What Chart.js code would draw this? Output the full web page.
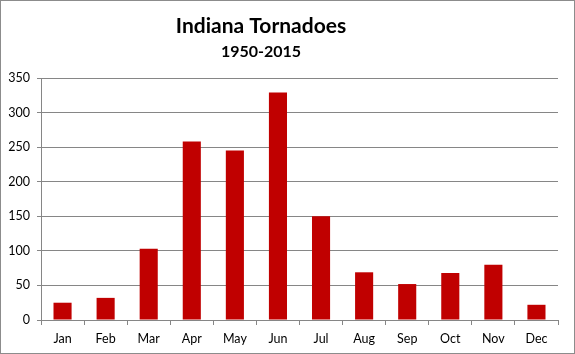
<!DOCTYPE html>
<html>
<head>
<meta charset="utf-8">
<script src="https://cdn.jsdelivr.net/npm/chart.js@4/dist/chart.umd.min.js"></script>
<style>
html,body{margin:0;padding:0;background:#fff;}
#wrap{position:relative;width:575px;height:354px;}
</style>
</head>
<body>
<div id="wrap"><canvas id="c" width="575" height="354"></canvas></div>
<script>
const categories = ["Jan","Feb","Mar","Apr","May","Jun","Jul","Aug","Sep","Oct","Nov","Dec"];
const tornadoes = [25, 32, 103, 258, 245, 329, 150, 69, 52, 68, 80, 22];
const yTicks = [0, 50, 100, 150, 200, 250, 300, 350];
const titleText = "Indiana Tornadoes";
const subtitleText = "1950-2015";

const FONT = "Lato, 'Open Sans', sans-serif";
const GRID = "#868686";

const decor = {
  id: "decor",
  beforeDraw(chart) {
    const ctx = chart.ctx;
    ctx.save();
    ctx.fillStyle = "#fff";
    ctx.fillRect(0, 0, chart.width, chart.height);
    ctx.restore();
  },
  afterDraw(chart) {
    const ctx = chart.ctx;
    ctx.save();
    ctx.strokeStyle = "#8c8c8c";
    ctx.lineWidth = 1;
    ctx.strokeRect(0.5, 0.5, chart.width - 1, chart.height - 1);
    ctx.fillStyle = "#000";
    ctx.textAlign = "center";
    ctx.textBaseline = "alphabetic";
    ctx.font = "bold 21px " + FONT;
    ctx.fillText(titleText, 261, 33);
    ctx.font = "bold 16px " + FONT;
    ctx.fillText(subtitleText, 261, 57);
    ctx.restore();
  }
};

new Chart(document.getElementById("c"), {
  type: "bar",
  data: {
    labels: categories,
    datasets: [{
      label: "Tornadoes",
      data: tornadoes,
      backgroundColor: "#C00000",
      borderWidth: 0,
      barPercentage: 0.42,
      categoryPercentage: 1.0
    }]
  },
  plugins: [decor],
  options: {
    responsive: false,
    animation: false,
    devicePixelRatio: 1,
    layout: { padding: { top: 78, right: 17, left: 0, bottom: 0 } },
    plugins: {
      legend: { display: false },
      title: { display: false },
      tooltip: { enabled: false }
    },
    scales: {
      x: {
        offset: true,
        grid: {
          offset: true,
          drawOnChartArea: false,
          drawTicks: true,
          tickLength: 5,
          color: GRID
        },
        border: { color: GRID, width: 1 },
        ticks: {
          color: "#000",
          font: { family: FONT, size: 12.5 },
          padding: 6,
          maxRotation: 0,
          autoSkip: false
        },
        afterFit(scale) { scale.height = 34; }
      },
      y: {
        min: 0,
        max: 350,
        afterBuildTicks(scale) { scale.ticks = yTicks.map(v => ({ value: v })); },
        grid: {
          color: GRID,
          drawTicks: true,
          tickLength: 4
        },
        border: { color: GRID, width: 1 },
        ticks: {
          color: "#000",
          font: { family: FONT, size: 12.5 },
          padding: 7
        },
        afterFit(scale) { scale.width = 41; }
      }
    }
  }
});
</script>
</body>
</html>
